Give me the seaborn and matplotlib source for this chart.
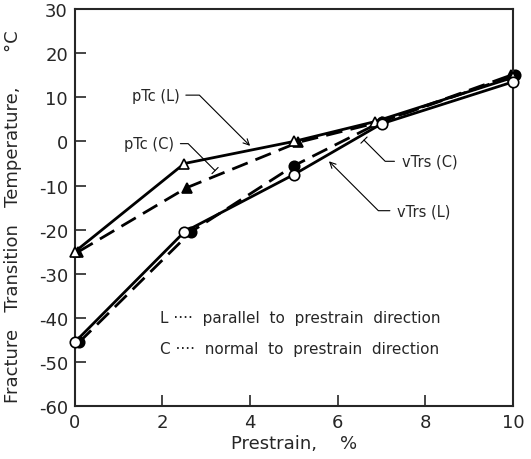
import matplotlib
matplotlib.use("Agg")
import matplotlib.pyplot as plt
import seaborn as sns
import pandas as pd

# Data
prestrain_L = [0, 2.5, 5, 6.85, 10]
ptc_L = [-25, -5, 0, 4.5, 14.5]
prestrain_ptc_C = [0.08, 2.55, 5.1, 7, 9.95]
ptc_C = [-25, -10.5, -0.2, 4.5, 15]
prestrain_vtrs_L = [0, 2.5, 5, 7, 10]
vtrs_L = [-45.5, -20.5, -7.5, 4, 13.5]
prestrain_vtrs_C = [0.1, 2.65, 5, 7, 10.05]
vtrs_C = [-45.5, -20.5, -5.5, 4.5, 15]
x_ticks = [0, 2, 4, 6, 8, 10]
y_ticks = [-60, -50, -40, -30, -20, -10, 0, 10, 20, 30]

sns.set_style("ticks")
plt.rcParams['font.family'] = ['DejaVu Sans']

fig = plt.figure(figsize=(5.31, 4.60), dpi=100)
ax = fig.add_axes([0.141, 0.115, 0.825, 0.863])

# filled (C) first, open (L) on top
series = [
    (prestrain_ptc_C, ptc_C, (0, (6, 3)), '^', 'black', 2),
    (prestrain_vtrs_C, vtrs_C, (0, (6, 3)), 'o', 'black', 2),
    (prestrain_L, ptc_L, '-', '^', 'white', 3),
    (prestrain_vtrs_L, vtrs_L, '-', 'o', 'white', 3),
]
for xv, yv, ls, mk, fc, z in series:
    df = pd.DataFrame({'x': xv, 'y': yv})
    sns.lineplot(data=df, x='x', y='y', ax=ax, color='black', linewidth=2,
                 linestyle=ls, marker=mk, markersize=7.5, markerfacecolor=fc,
                 markeredgecolor='black', markeredgewidth=1.2, clip_on=False,
                 zorder=z)

ax.set_xlim(0, 10)
ax.set_ylim(-60, 30)
ax.set_xticks(x_ticks)
ax.set_yticks(y_ticks)
ax.set_xticklabels([str(t) for t in x_ticks])
ax.set_yticklabels([str(t) for t in y_ticks])
ax.tick_params(direction='in', length=8, width=1.2, labelsize=13, pad=5)
for s in ax.spines.values():
    s.set_linewidth(1.5)
    s.set_visible(True)

ax.set_xlabel("Prestrain,    %", fontsize=13, labelpad=2)
ax.set_ylabel("Fracture   Transition   Temperature,      °C", fontsize=13)
ax.yaxis.set_label_coords(-0.12, 0.479)

fs = 10.5
ax.annotate("pTc (L)", xy=(4.0, -1.0), xytext=(1.85, 10.5), fontsize=fs,
            ha='center', va='center',
            arrowprops=dict(arrowstyle='->', color='black', lw=0.8, relpos=(1, 0.5),
                            connectionstyle='angle,angleA=0,angleB=135,rad=0',
                            shrinkA=2, shrinkB=0))
ax.annotate("pTc (C)", xy=(3.2, -6.6), xytext=(1.7, -0.5), fontsize=fs,
            ha='center', va='center',
            arrowprops=dict(arrowstyle='-[, widthB=0.3, lengthB=0', color='black', lw=0.8,
                            relpos=(1, 0.5),
                            connectionstyle='angle,angleA=0,angleB=135,rad=0',
                            shrinkA=2, shrinkB=0))
ax.annotate("vTrs (C)", xy=(6.6, 0.3), xytext=(8.1, -4.5), fontsize=fs,
            ha='center', va='center',
            arrowprops=dict(arrowstyle='-[, widthB=0.3, lengthB=0', color='black', lw=0.8,
                            relpos=(0, 0.5),
                            connectionstyle='angle,angleA=180,angleB=-45,rad=0',
                            shrinkA=3, shrinkB=0))
ax.annotate("vTrs (L)", xy=(5.8, -4.5), xytext=(7.97, -15.7), fontsize=fs,
            ha='center', va='center',
            arrowprops=dict(arrowstyle='->', color='black', lw=0.8, relpos=(0, 0.5),
                            connectionstyle='angle,angleA=180,angleB=-45,rad=0',
                            shrinkA=3, shrinkB=0))

ax.text(1.94, -39.8, "L ····  parallel  to  prestrain  direction", fontsize=11,
        ha='left', va='center')
ax.text(1.94, -47.0, "C ····  normal  to  prestrain  direction", fontsize=11,
        ha='left', va='center')

fig.savefig("out.png", dpi=100)
